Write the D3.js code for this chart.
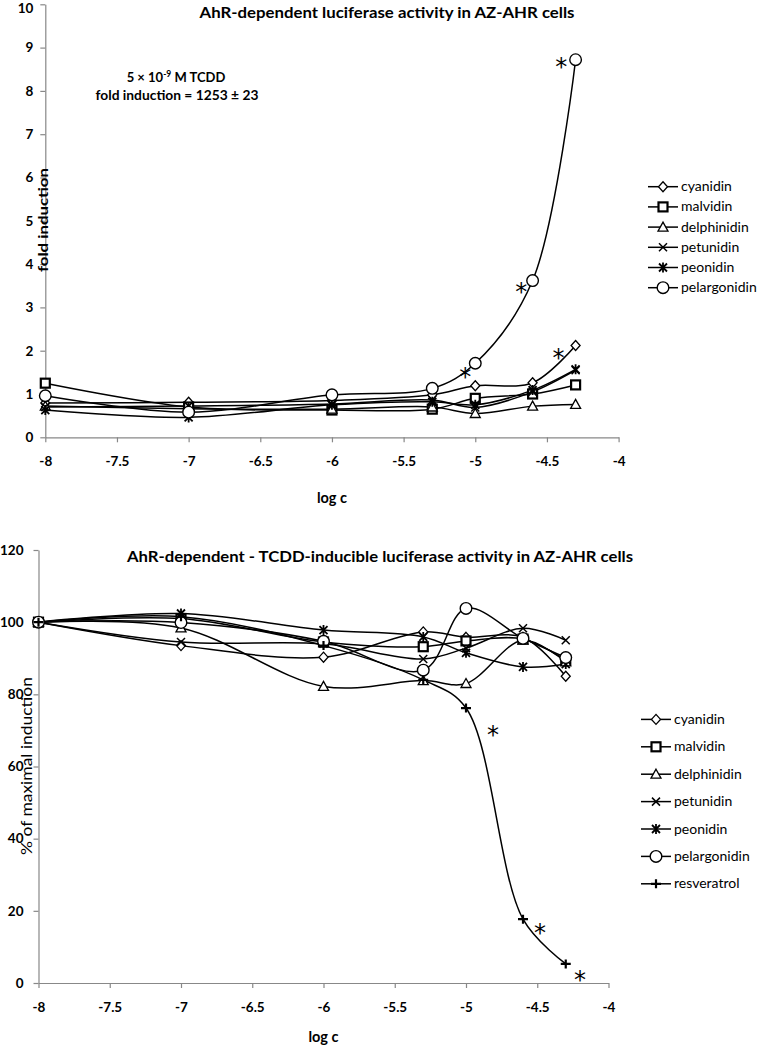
<!DOCTYPE html>
<html><head><meta charset="utf-8">
<script src="https://cdn.jsdelivr.net/npm/d3@7"></script>
<style>
body{margin:0;background:#fff;}
svg{display:block;font-family:Lato,"Open Sans",sans-serif;}
</style></head>
<body>
<svg id="c" width="758" height="1050"></svg>
<script>
// ---------- data ----------
const logC = [-8, -7, -6, -5.3, -5, -4.6, -4.3];
const xTicks = [-8, -7.5, -7, -6.5, -6, -5.5, -5, -4.5, -4];
const xTickLabels = ["-8", "-7.5", "-7", "-6.5", "-6", "-5.5", "-5", "-4.5", "-4"];
const topYTicks = [0,1,2,3,4,5,6,7,8,9,10];
const botYTicks = [0,20,40,60,80,100,120];

const topNames = ["cyanidin","malvidin","delphinidin","petunidin","peonidin","pelargonidin"];
const topCyanidin     = [0.79, 0.81, 0.85, 0.98, 1.19, 1.26, 2.12];
const topMalvidin     = [1.25, 0.70, 0.63, 0.65, 0.90, 1.00, 1.21];
const topDelphinidin  = [0.72, 0.66, 0.65, 0.70, 0.55, 0.72, 0.76];
const topPetunidin    = [0.70, 0.72, 0.77, 0.86, 0.69, 1.05, 1.55];
const topPeonidin     = [0.63, 0.46, 0.75, 0.82, 0.75, 1.09, 1.57];
const topPelargonidin = [0.96, 0.58, 0.98, 1.13, 1.71, 3.62, 8.72];

const botNames = ["cyanidin","malvidin","delphinidin","petunidin","peonidin","pelargonidin","resveratrol"];
const botCyanidin     = [100, 93.5, 90.3, 97.3, 95.8, 95.8, 85.0];
const botMalvidin     = [100, 101.0, 94.5, 93.2, 94.8, 95.3, 89.5];
const botDelphinidin  = [100, 98.4, 82.2, 83.8, 83.0, 95.0, 89.0];
const botPetunidin    = [100, 94.5, 94.0, 89.8, 92.8, 98.3, 95.0];
const botPeonidin     = [100, 102.4, 97.8, 95.9, 91.5, 87.6, 88.4];
const botPelargonidin = [100, 99.9, 94.7, 86.7, 103.8, 95.5, 90.2];
const botResveratrol  = [100, 101.5, 93.5, 84.0, 76.2, 17.7, 5.3];

// significance asterisks [log c, value]
const topStars = [[-5.07, 1.51], [-4.68, 3.47], [-4.40, 8.67], [-4.42, 1.94]];
const botStars = [[-4.81, 70], [-4.48, 15.2], [-4.20, 2.2]];

const topTitle = "AhR-dependent luciferase activity in AZ-AHR cells";
const botTitle = "AhR-dependent - TCDD-inducible luciferase activity in AZ-AHR cells";

// ---------- drawing ----------
const svg = d3.select("#c");
const markerTypes = ["diamond","square","triangle","x","asterisk","circle","plus"];

function drawMarker(g, type){
  if(type==="diamond"){
    g.append("path").attr("d","M0,-5L4.5,0L0,5L-4.5,0Z").attr("fill","#fff").attr("stroke","#000").attr("stroke-width",1.3);
  } else if(type==="square"){
    g.append("rect").attr("x",-4.5).attr("y",-4.5).attr("width",9).attr("height",9).attr("fill","#fff").attr("stroke","#000").attr("stroke-width",2.2);
  } else if(type==="triangle"){
    g.append("path").attr("d","M0,-5L5,4L-5,4Z").attr("fill","#fff").attr("stroke","#000").attr("stroke-width",1.3);
  } else if(type==="x"){
    g.append("path").attr("d","M-4,-4L4,4M-4,4L4,-4").attr("stroke","#000").attr("stroke-width",1.5);
  } else if(type==="asterisk"){
    g.append("path").attr("d","M-4,-4L4,4M-4,4L4,-4M0,-5L0,5").attr("stroke","#000").attr("stroke-width",1.8);
  } else if(type==="circle"){
    g.append("circle").attr("r",5.8).attr("fill","#fff").attr("stroke","#000").attr("stroke-width",1.4);
  } else if(type==="plus"){
    g.append("path").attr("d","M-5,0L5,0M0,-4.5L0,4.5").attr("stroke","#000").attr("stroke-width",2.2);
  }
}

function chart(cfg){
  const x = d3.scaleLinear().domain([-8,-4]).range([cfg.x0, cfg.x1]);
  const y = d3.scaleLinear().domain([0, cfg.ymax]).range([cfg.yb, cfg.yt]);
  const g = svg.append("g");

  const xa = g.append("g").attr("transform",`translate(0,${cfg.yb})`)
    .call(d3.axisBottom(x).tickValues(xTicks).tickFormat((d,i)=>xTickLabels[i]).tickSizeInner(5).tickSizeOuter(0).tickPadding(cfg.xpad));
  const ya = g.append("g").attr("transform",`translate(${cfg.x0},0)`)
    .call(d3.axisLeft(y).tickValues(cfg.yTicks).tickSizeInner(5).tickSizeOuter(0).tickPadding(cfg.ypad));
  [xa,ya].forEach(a=>{
    a.select(".domain").attr("stroke","#888").attr("stroke-width",1.2);
    a.selectAll(".tick line").attr("stroke","#888").attr("stroke-width",1.2);
    a.selectAll(".tick text").attr("font-family","Lato, sans-serif").attr("font-weight","bold").attr("font-size",13.5).attr("fill","#000");
  });
  // keep the topmost label inside the picture
  ya.selectAll(".tick text").filter(d=>d===cfg.ymax).attr("dy", cfg.topLabelDy);

  g.append("text").attr("x",cfg.titleX).attr("y",cfg.titleY).attr("text-anchor","middle")
    .attr("font-weight","bold").attr("font-size",14.5).attr("textLength",cfg.titleLen).attr("lengthAdjust","spacingAndGlyphs").text(cfg.title);
  g.append("text").attr("x",(cfg.x0+cfg.x1)/2).attr("y",cfg.xTitleY).attr("text-anchor","middle")
    .attr("font-weight","bold").attr("font-size",14.5).text("log c");
  g.append("text").attr("transform",`translate(${cfg.yTitleX},${cfg.yTitleY}) rotate(-90)`).attr("text-anchor","middle")
    .attr("font-weight",cfg.yTitleWeight).attr("font-size",cfg.yTitleSize).attr("textLength",cfg.yTitleLen).attr("lengthAdjust","spacingAndGlyphs").text(cfg.yTitle);

  const line = d3.line().x((d,i)=>x(logC[i])).y(d=>y(d)).curve(d3.curveCatmullRom.alpha(0.5));
  cfg.series.forEach((s)=>{
    g.append("path").attr("d",line(s)).attr("fill","none").attr("stroke","#000").attr("stroke-width",1.5);
  });
  cfg.series.forEach((s,k)=>{
    s.forEach((v,i)=>{
      const mg = g.append("g").attr("transform",`translate(${x(logC[i])},${y(v)})`);
      drawMarker(mg, markerTypes[k]);
    });
  });

  g.selectAll(null).data(cfg.stars).enter().append("text")
    .attr("x",d=>x(d[0])).attr("y",d=>y(d[1])+13).attr("text-anchor","middle")
    .attr("font-size",24).attr("font-family","DejaVu Sans, sans-serif").text("*");

  cfg.names.forEach((n,k)=>{
    const ly = cfg.legY0 + k*cfg.legDy;
    g.append("line").attr("x1",cfg.legX).attr("x2",cfg.legX+30).attr("y1",ly).attr("y2",ly).attr("stroke","#000").attr("stroke-width",1.5);
    const mg = g.append("g").attr("transform",`translate(${cfg.legX+15},${ly})`);
    drawMarker(mg, markerTypes[k]);
    g.append("text").attr("x",cfg.legX+33).attr("y",ly+4.5).attr("font-size",14).text(n);
  });
  return {x,y,g};
}

const topChart = chart({
  x0:45.3, x1:618.6, yb:437.3, yt:4.3, ymax:10, yTicks:topYTicks, xpad:14, ypad:7, topLabelDy:"0.62em",
  title:topTitle, titleX:387, titleY:18, titleLen:375,
  xTitleY:503, yTitle:"fold induction", yTitleX:48, yTitleY:220, yTitleSize:14, yTitleWeight:"bold", yTitleLen:104,
  series:[topCyanidin,topMalvidin,topDelphinidin,topPetunidin,topPeonidin,topPelargonidin],
  names:topNames, stars:topStars, legX:648, legY0:186.7, legDy:20.2
});
// TCDD note
const note1 = topChart.g.append("text").attr("x",176).attr("y",82).attr("text-anchor","middle")
  .attr("font-weight","bold").attr("font-size",13);
note1.append("tspan").text("5 × 10");
note1.append("tspan").attr("font-size",8.5).attr("dy",-5).text("-9");
note1.append("tspan").attr("dy",5).text(" M TCDD");
topChart.g.append("text").attr("x",177).attr("y",100).attr("text-anchor","middle")
  .attr("font-weight","bold").attr("font-size",13).attr("textLength",163).attr("lengthAdjust","spacingAndGlyphs")
  .text("fold induction = 1253 ± 23");

const botChart = chart({
  x0:38.5, x1:608.5, yb:983, yt:550, ymax:120, yTicks:botYTicks, xpad:14, ypad:10, topLabelDy:"0.32em",
  title:botTitle, titleX:380, titleY:562, titleLen:506,
  xTitleY:1042, yTitle:"% of maximal induction", yTitleX:32, yTitleY:766, yTitleSize:15, yTitleWeight:"normal", yTitleLen:178,
  series:[botCyanidin,botMalvidin,botDelphinidin,botPetunidin,botPeonidin,botPelargonidin,botResveratrol],
  names:botNames, stars:botStars, legX:641, legY0:719.4, legDy:27.4
});
</script>
</body></html>
